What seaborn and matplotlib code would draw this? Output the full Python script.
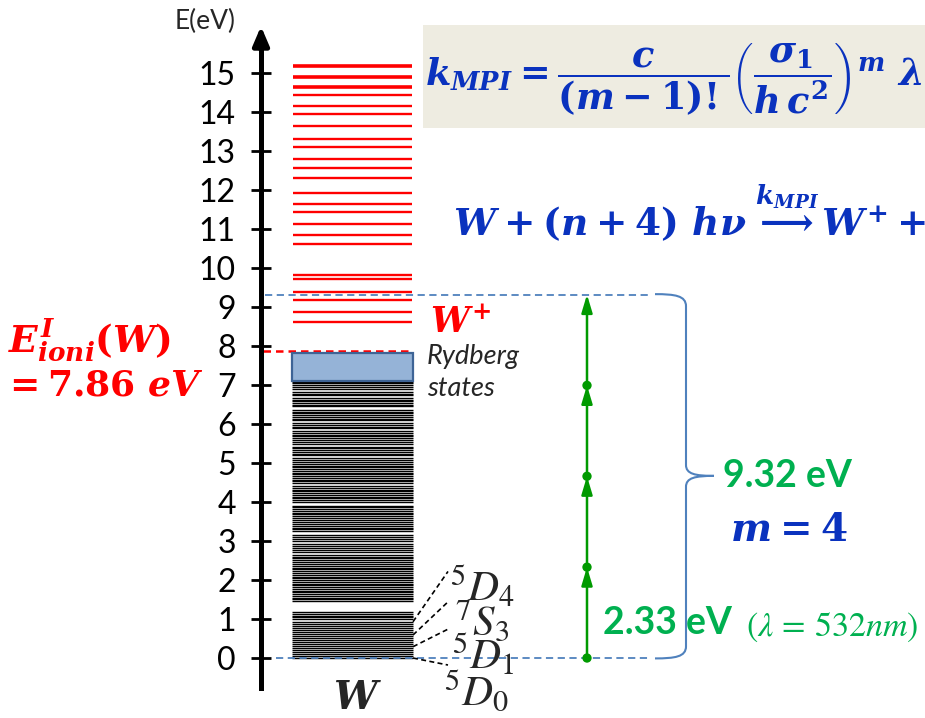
import matplotlib
matplotlib.use("Agg")
import matplotlib.pyplot as plt
import seaborn as sns
import pandas as pd
from matplotlib.patches import Rectangle, PathPatch
from matplotlib.path import Path

# ---------------- data ----------------
tick_values = list(range(16))
tick_labels = [str(v) for v in tick_values]

ionization_energy = 7.86
multiphoton_energy = 9.32
photon_levels = [0.0, 2.33, 4.66, 6.99, 9.32]

red_levels = [15.19, 14.91, 14.64, 14.44, 14.16, 13.95, 13.65, 13.32, 13.11,
              12.80, 12.57, 12.30, 11.92, 11.64, 11.44, 11.13, 10.84, 10.62,
              9.82, 9.72, 9.38, 9.18, 8.87, 8.62]

black_low = [0.00, 0.05, 0.10, 0.15, 0.20, 0.25, 0.30, 0.35, 0.40, 0.45, 0.51,
             0.56, 0.61, 0.66, 0.72, 0.77, 0.82, 0.88, 0.93, 0.99, 1.04, 1.09,
             1.14, 1.19]
black_b1 = [1.47, 1.51, 1.55, 1.59, 1.63, 1.68, 1.72, 1.77, 1.82, 1.86, 1.90,
            1.95, 1.99, 2.04, 2.09, 2.13, 2.18, 2.22, 2.27, 2.31, 2.35]
black_b2 = [2.42, 2.47, 2.51, 2.56, 2.60, 2.65, 2.73, 2.78, 2.82, 2.87, 2.92,
            3.01, 3.06, 3.10, 3.15, 3.25, 3.30, 3.34, 3.39, 3.43]
black_b3 = [3.50, 3.55, 3.59, 3.64, 3.68, 3.73, 3.77, 3.82, 3.86, 3.91, 4.01,
            4.05, 4.10, 4.14, 4.19, 4.23, 4.28, 4.32, 4.37, 4.41]
black_b4 = [4.48, 4.53, 4.57, 4.62, 4.66, 4.71, 4.75, 4.80, 4.84, 4.89, 4.93,
            4.98, 5.02, 5.07, 5.12, 5.20, 5.24, 5.29, 5.33, 5.38, 5.42]
black_b5 = [5.50, 5.54, 5.59, 5.63, 5.68, 5.72, 5.77, 5.81, 5.89, 5.93, 5.98,
            6.02, 6.10, 6.14, 6.19, 6.23, 6.28, 6.32, 6.37, 6.45, 6.49, 6.54,
            6.58, 6.62, 6.66, 6.74, 6.78, 6.83, 6.91, 6.95, 7.00, 7.04, 7.08]
black_levels = black_low + black_b1 + black_b2 + black_b3 + black_b4 + black_b5

rydberg_bottom, rydberg_top = 7.11, 7.83

term_labels = [r"$^{5}D_{4}$", r"$^{7}S_{3}$", r"$^{5}D_{1}$", r"$^{5}D_{0}$"]
term_level_from = [0.93, 0.59, 0.29, 0.0]
term_level_to = [2.22, 1.44, 0.74, -0.18]

# ---------------- style ----------------
sns.set_theme(style="white")
plt.rcParams["font.family"] = ["Lato", "DejaVu Sans"]
plt.rcParams["mathtext.fontset"] = "custom"
plt.rcParams["mathtext.rm"] = "DejaVu Serif:bold"
plt.rcParams["mathtext.it"] = "DejaVu Serif:italic:bold"
plt.rcParams["mathtext.bf"] = "DejaVu Serif:bold"
plt.rcParams["mathtext.sf"] = "DejaVu Serif:bold"

RED = "#ff0000"
BLUE_TXT = "#0a32be"
GREEN_TXT = "#00b050"
GREEN_ARR = "#009a00"
BLUE_LINE = "#4f81bd"

fig = plt.figure(figsize=(9.25, 7.18), dpi=100)
ax = fig.add_axes([0, 0, 1, 1])
ax.set_xlim(0, 925)
ax.set_ylim(-1.538, 16.872)
for s in ["top", "right", "bottom"]:
    ax.spines[s].set_visible(False)
ax.spines["left"].set_position(("data", 261))
ax.spines["left"].set_linewidth(3.6)
ax.spines["left"].set_color("black")
ax.spines["left"].set_bounds(-0.77, 15.8)
ax.set_xticks([])
ax.set_yticks(tick_values)
ax.set_yticklabels(tick_labels)
ax.tick_params(axis="y", left=True, direction="inout", length=14.4, width=2,
               labelsize=23, pad=11, colors="black")
ax.patch.set_alpha(0)

# axis arrow head
ax.annotate("", xy=(261, 16.2), xytext=(261, 15.6),
            arrowprops=dict(arrowstyle="-|>,head_length=0.75,head_width=0.32",
                            mutation_scale=15, color="black", lw=3.6,
                            shrinkA=0, shrinkB=0))
ax.text(205, 16.33, "E(eV)", ha="center", va="center", fontsize=19)

# energy levels
ax.hlines(black_levels, 292, 413, color="black", lw=1.0)
ax.hlines(red_levels[3:], 293, 412, color=RED, lw=1.7)
ax.hlines(red_levels[:3], 293, 412, color=RED, lw=2.6)

# Rydberg box
ax.add_patch(Rectangle((292, rydberg_bottom), 121, rydberg_top - rydberg_bottom,
                       facecolor="#95b3d7", edgecolor="#3e6496", lw=1.6, zorder=3))
ax.text(427, 7.72, "Rydberg", fontsize=19.5, style="italic", ha="left", va="center")
ax.text(427, 6.9, "states", fontsize=19.5, style="italic", ha="left", va="center")

# ionisation dashed
ax.hlines([ionization_energy], 263, 413, color=RED, lw=1.8, linestyles=(0, (3, 2)))
ax.text(430, 8.6, r"$W^{+}$", color=RED, fontsize=25, ha="left", va="center")
ax.text(8, 8.15, r"$E_{ioni}^{I}(W)$", color=RED, fontsize=27, ha="left", va="center")
ax.text(2, 7.0, r"$=\mathbf{7.86}\ eV$", color=RED, fontsize=26, ha="left", va="center")

# blue dashed references
ax.hlines([multiphoton_energy], 265, 648, color=BLUE_LINE, lw=1.3, linestyles=(0, (4, 2.5)))
ax.hlines([0.0], 276, 648, color=BLUE_LINE, lw=1.3, linestyles=(0, (4, 2.5)))

# brace
top, bot, mid = multiphoton_energy, 0.0, 4.67
verts = [(655, top + 0.01), (675, top + 0.01), (686, top - 0.03), (686, top - 0.3),
         (686, mid + 0.28),
         (686, mid + 0.05), (695, mid), (714, mid),
         (714, mid), (695, mid), (686, mid - 0.05), (686, mid - 0.28),
         (686, bot + 0.3),
         (686, bot + 0.03), (675, bot - 0.01), (655, bot - 0.01)]
codes = [Path.MOVETO, Path.CURVE4, Path.CURVE4, Path.CURVE4,
         Path.LINETO,
         Path.CURVE4, Path.CURVE4, Path.CURVE4,
         Path.MOVETO, Path.CURVE4, Path.CURVE4, Path.CURVE4,
         Path.LINETO,
         Path.CURVE4, Path.CURVE4, Path.CURVE4]
ax.add_patch(PathPatch(Path(verts, codes), facecolor="none", edgecolor=BLUE_LINE, lw=1.5))

# photon arrows
for a, b in zip(photon_levels[:-1], photon_levels[1:]):
    ax.annotate("", xy=(587, b), xytext=(587, a),
                arrowprops=dict(arrowstyle="-|>,head_length=0.6,head_width=0.18",
                                mutation_scale=18, color=GREEN_ARR, lw=1.8,
                                shrinkA=0, shrinkB=0))
dots = pd.DataFrame({"x": [587] * 4, "E": photon_levels[:4]})
sns.scatterplot(data=dots, x="x", y="E", color=GREEN_ARR, s=45, edgecolor="none",
                ax=ax, zorder=5, legend=False)
ax.set_xlabel("")
ax.set_ylabel("")

ax.text(723, 4.67, "9.32 eV", color=GREEN_TXT, fontsize=27, fontweight="bold",
        ha="left", va="center")
ax.text(789, 3.28, r"$m=4$", color=BLUE_TXT, fontsize=28, ha="center", va="center")
ax.text(603, 0.9, "2.33 eV", color=GREEN_TXT, fontsize=27, fontweight="bold",
        ha="left", va="center")
ax.text(746, 0.78, r"$(\lambda\,=\,\mathrm{532}nm)$", color=GREEN_TXT, fontsize=24.5,
        ha="left", va="center", math_fontfamily="stix")

# W label
ax.text(357, -1.03, r"$W$", fontsize=28, ha="center", va="center")

# term symbols
for lab, e0, e1 in zip(term_labels, term_level_from, term_level_to):
    ax.plot([413, 448], [e0, e1], color="black", lw=1.2, ls=(0, (3, 2)))
term_pos = [(450, 1.85), (455, 0.95), (452, 0.12), (444, -0.82)]
for lab, (x, y) in zip(term_labels, term_pos):
    ax.text(x, y, lab, fontsize=31, ha="left", va="center", math_fontfamily="stix",
            style="italic")

# formula box
ax.add_patch(Rectangle((423, 13.59), 510, 2.64, facecolor="#eeece1", edgecolor="none",
                       zorder=0.5))
ax.text(425, 14.85,
        r"$k_{MPI}=\dfrac{c}{(m-1)!}\left(\dfrac{\sigma_{1}}{h\,c^{2}}\right)^{m}\ \lambda$",
        color=BLUE_TXT, fontsize=26.5, ha="left", va="center")
ax.text(453, 11.41,
        r"$W+(n+4)\ h\nu\,\overset{k_{MPI}}{\longrightarrow}W^{+}+$",
        color=BLUE_TXT, fontsize=27, ha="left", va="center")

fig.savefig("out.png", dpi=100)
